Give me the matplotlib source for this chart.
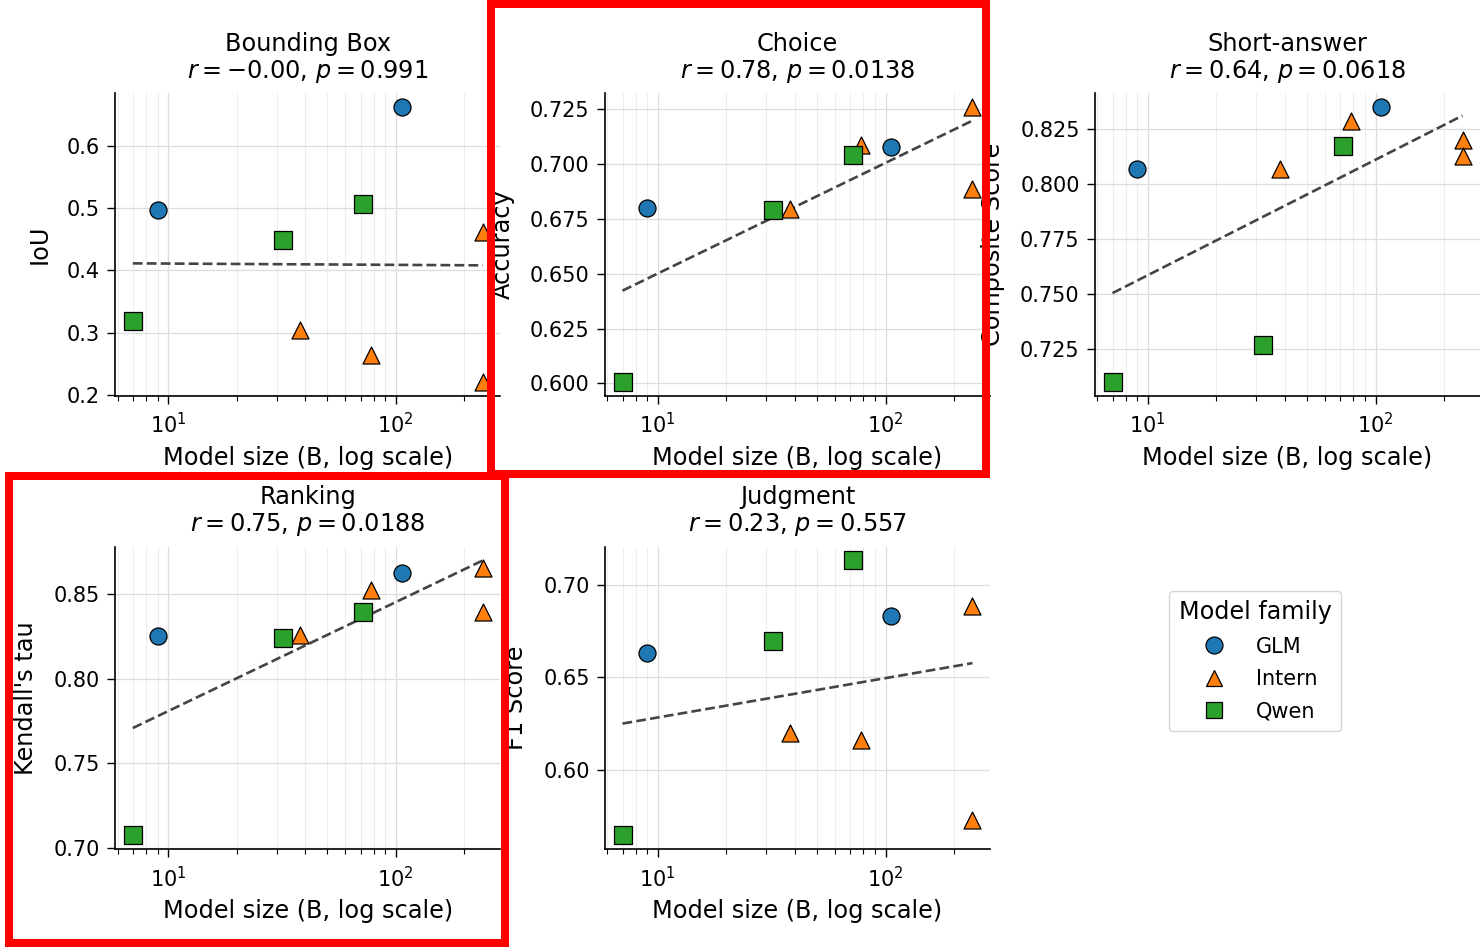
import numpy as np
import matplotlib
matplotlib.use("Agg")
import matplotlib.pyplot as plt
from matplotlib.patches import Rectangle
from matplotlib.lines import Line2D
from matplotlib.ticker import MultipleLocator

# ---------------- data ----------------
model_family = ["GLM", "GLM", "Intern", "Intern", "Intern", "Intern", "Qwen", "Qwen", "Qwen"]
model_size_b = [9, 106, 38, 78, 241, 241, 7, 32, 72]

bbox_iou = [0.497, 0.662, 0.304, 0.265, 0.462, 0.221, 0.318, 0.449, 0.507]
choice_acc = [0.680, 0.7077, 0.6795, 0.7086, 0.7258, 0.6885, 0.6007, 0.679, 0.704]
short_score = [0.8066, 0.8348, 0.8069, 0.8284, 0.820, 0.8126, 0.7102, 0.7268, 0.8171]
ranking_tau = [0.8253, 0.862, 0.826, 0.852, 0.8654, 0.8391, 0.7075, 0.824, 0.839]
judgment_f1 = [0.663, 0.6832, 0.6198, 0.6162, 0.6886, 0.5726, 0.5645, 0.6696, 0.7131]

task_names = ["Bounding Box", "Choice", "Short-answer", "Ranking", "Judgment"]
y_labels = ["IoU", "Accuracy", "Composite Score", "Kendall's tau", "F1 Score"]
stat_texts = ["$r = -0.00$, $p = 0.991$",
              "$r = 0.78$, $p = 0.0138$",
              "$r = 0.64$, $p = 0.0618$",
              "$r = 0.75$, $p = 0.0188$",
              "$r = 0.23$, $p = 0.557$"]
y_tick_steps = [0.1, 0.025, 0.025, 0.05, 0.05]
task_scores = [bbox_iou, choice_acc, short_score, ranking_tau, judgment_f1]

families = ["GLM", "Intern", "Qwen"]
family_colors = {"GLM": "#1f77b4", "Intern": "#ff7f0e", "Qwen": "#2ca02c"}
family_markers = {"GLM": "o", "Intern": "^", "Qwen": "s"}

# ---------------- style ----------------
plt.rcParams.update({
    "font.family": ["DejaVu Sans"],
    "axes.linewidth": 1.2,
    "xtick.major.size": 6.0,
    "ytick.major.size": 6.0,
    "xtick.minor.size": 3.5,
    "xtick.major.width": 1.0,
    "ytick.major.width": 1.0,
    "xtick.minor.width": 0.8,
    "xtick.major.pad": 6.0,
    "xtick.minor.pad": 6.0,
    "ytick.major.pad": 5.0,
    "xtick.labelsize": 15,
    "ytick.labelsize": 15,
    "axes.labelsize": 17.3,
    "axes.titlesize": 17.3,
})

W, H = 1480, 947
fig = plt.figure(figsize=(W / 100, H / 100), dpi=100)

col_left = [115.3, 605.0, 1095.0]
row_top = [93.3, 546.7]
ax_w, ax_h = 385.0, 302.4
slots = [(0, 0), (0, 1), (0, 2), (1, 0), (1, 1)]

sizes = np.array(model_size_b, dtype=float)
fams = np.array(model_family)

for i, (r, c) in enumerate(slots):
    left = col_left[c] / W
    bottom = 1 - (row_top[r] + ax_h) / H
    ax = fig.add_axes([left, bottom, ax_w / W, ax_h / H])
    y = np.array(task_scores[i], dtype=float)

    for fam in families:
        m = fams == fam
        ax.scatter(sizes[m], y[m], s=150, marker=family_markers[fam],
                   c=family_colors[fam], edgecolors="black", linewidths=0.9, zorder=3)

    # regression on log10(size)
    lx = np.log10(sizes)
    b, a = np.polyfit(lx, y, 1)
    xs = np.array([sizes.min(), sizes.max()])
    ax.plot(xs, a + b * np.log10(xs), linestyle="--", color="#444444",
            linewidth=1.9, zorder=2)

    ax.set_xscale("log")
    ax.yaxis.set_major_locator(MultipleLocator(y_tick_steps[i]))
    ax.grid(True, which="major", color="#dddddd", linewidth=0.9, zorder=0)
    ax.grid(True, which="minor", axis="x", color="#eeeeee", linewidth=0.8, zorder=0)
    ax.set_axisbelow(True)
    ax.spines["top"].set_visible(False)
    ax.spines["right"].set_visible(False)
    ax.set_xlabel("Model size (B, log scale)", labelpad=6)
    ax.set_ylabel(y_labels[i], labelpad=11)
    ax.set_title(task_names[i] + "\n" + stat_texts[i], pad=11, linespacing=1.1)

# legend in empty sixth slot
handles = [Line2D([], [], marker=family_markers[f], linestyle="",
                  markerfacecolor=family_colors[f], markeredgecolor="black",
                  markeredgewidth=0.9, markersize=12.2) for f in families]
leg = fig.legend(handles, families, title="Model family", loc="center",
                 bbox_to_anchor=(1255 / W, 1 - 661 / H), fontsize=15,
                 title_fontsize=17.2, frameon=True, edgecolor="#cccccc",
                 handletextpad=1.0, labelspacing=0.6, borderpad=0.45)

# red highlight boxes
lw_px = 8
for (x0, y0, x1, y1) in [(491, 4, 986, 474), (9, 476, 505, 943)]:
    rect = Rectangle((x0 / W, 1 - y1 / H), (x1 - x0) / W, (y1 - y0) / H,
                     transform=fig.transFigure, fill=False, edgecolor="#ff0000",
                     linewidth=lw_px * 0.72, zorder=10)
    fig.add_artist(rect)

fig.savefig("out.png", dpi=100)
